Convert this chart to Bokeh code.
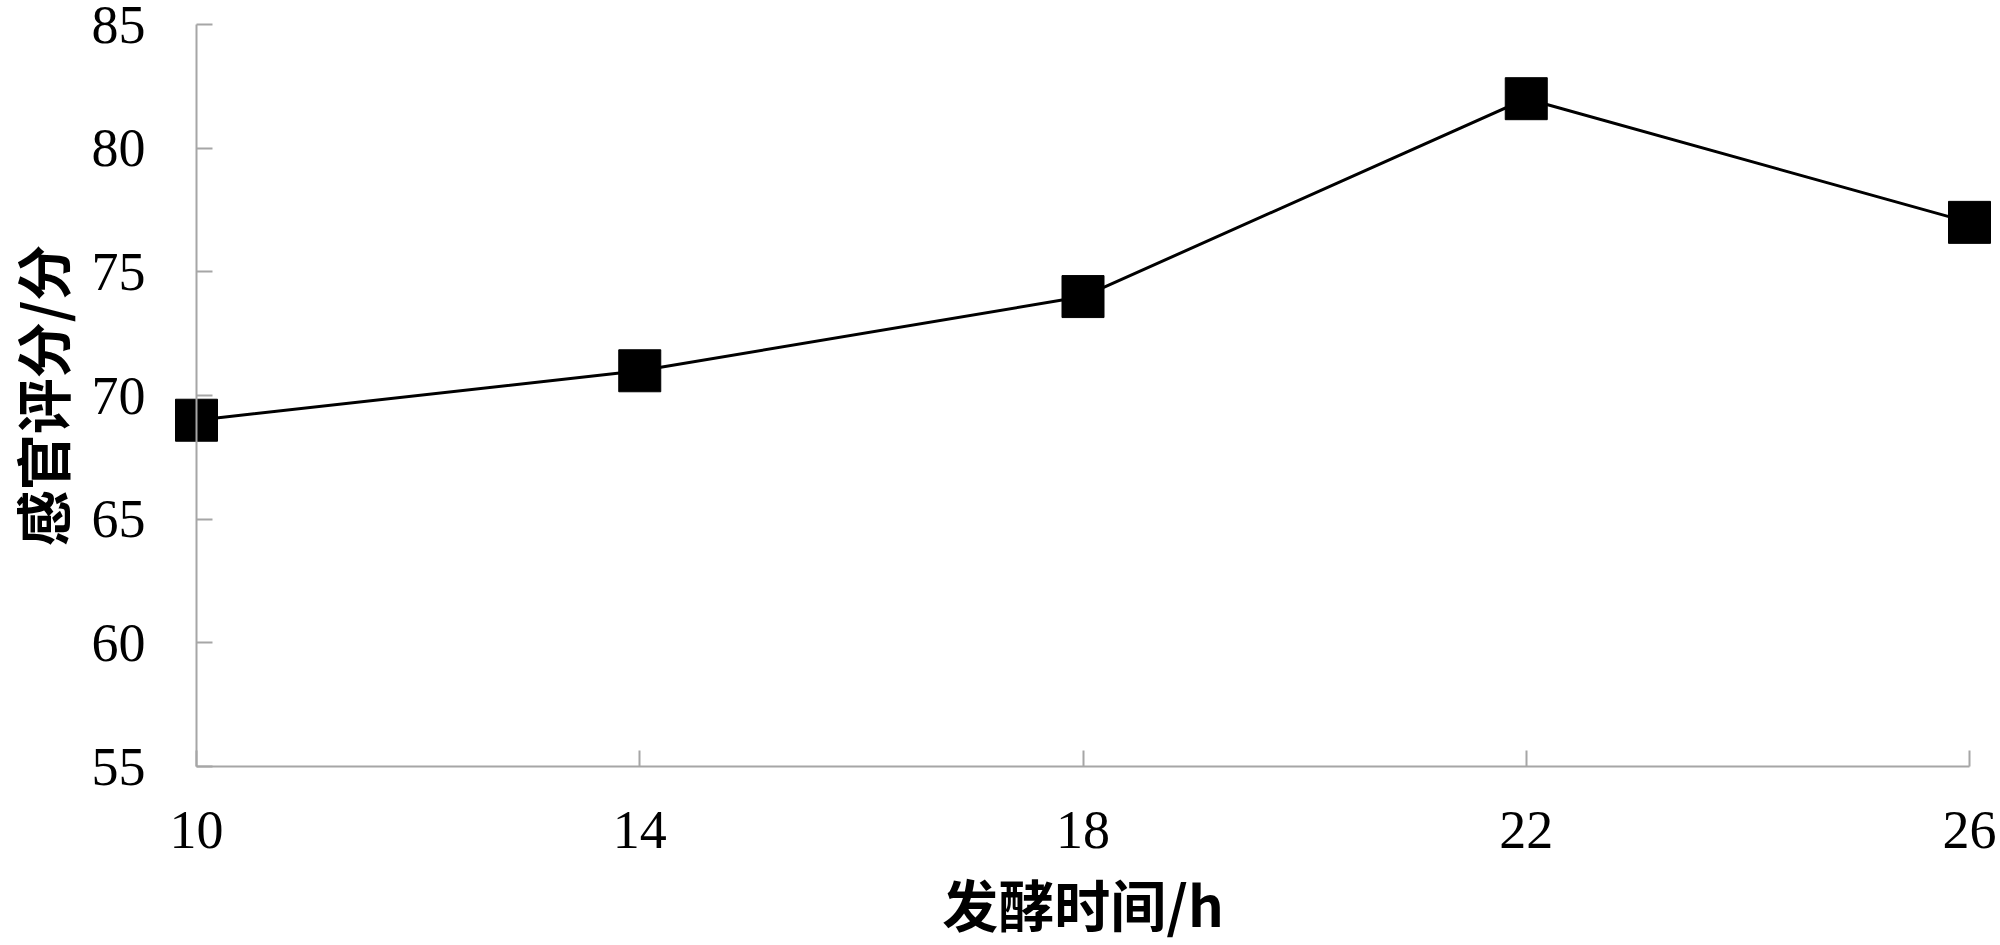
from bokeh.plotting import figure
from bokeh.models import Range1d, FixedTicker
from bokeh.embed import file_html
from bokeh.resources import INLINE

# Data
hours = [10, 14, 18, 22, 26]
scores = [69, 71, 74, 82, 77]
x_ticks = [10, 14, 18, 22, 26]
y_ticks = [55, 60, 65, 70, 75, 80, 85]
x_label = "发酵时间/h"
y_label = "感官评分/分"

# layout (pixels): where the axis ends land on the canvas
W, H = 2000, 945
x_min, x_max = 10, 26
y_min, y_max = 55, 85
px_left, px_right = 196, 1969      # pixel of x_min / x_max
px_top, px_bottom = 24, 766        # pixel of y_max / y_min
sx = (px_right - px_left) / (x_max - x_min)
sy = (px_bottom - px_top) / (y_max - y_min)
x_range = Range1d(x_min - px_left / sx, x_max + (W - px_right) / sx)
y_range = Range1d(y_min - (H - px_bottom) / sy, y_max + px_top / sy)

p = figure(width=W, height=H, output_backend="svg", toolbar_location=None,
           x_range=x_range, y_range=y_range,
           min_border_left=0, min_border_right=0, min_border_top=0, min_border_bottom=0)
p.outline_line_color = None
p.grid.visible = False
p.background_fill_color = "white"
p.border_fill_color = "white"

axis_color = "#a6a6a6"
for ax in (p.xaxis[0], p.yaxis[0]):
    ax.axis_line_color = axis_color
    ax.axis_line_width = 2
    ax.major_tick_line_color = axis_color
    ax.major_tick_line_width = 2
    ax.major_tick_in = 16
    ax.major_tick_out = 0
    ax.minor_tick_line_color = None
    ax.major_label_text_font = "Liberation Serif"
    ax.major_label_text_font_size = "54px"
    ax.major_label_text_color = "black"
    ax.axis_label_text_font = "Noto Sans CJK SC"
    ax.axis_label_text_font_style = "bold"
    ax.axis_label_text_font_size = "56px"
    ax.axis_label_text_color = "black"

p.xaxis.ticker = FixedTicker(ticks=x_ticks)
p.yaxis.ticker = FixedTicker(ticks=y_ticks)
p.xaxis.bounds = (x_min, x_max)
p.yaxis.bounds = (y_min, y_max)
p.xaxis.fixed_location = y_min
p.yaxis.fixed_location = x_min
p.xaxis.major_label_standoff = 45
p.yaxis.major_label_standoff = 51
p.xaxis.axis_label = x_label
p.yaxis.axis_label = y_label
p.xaxis.axis_label_standoff = 11
p.yaxis.axis_label_standoff = 8

p.line(hours, scores, line_color="black", line_width=3)
p.scatter(hours, scores, marker="square", size=42, fill_color="black", line_color="black")

open("out.html", "w").write(file_html(p, INLINE))
